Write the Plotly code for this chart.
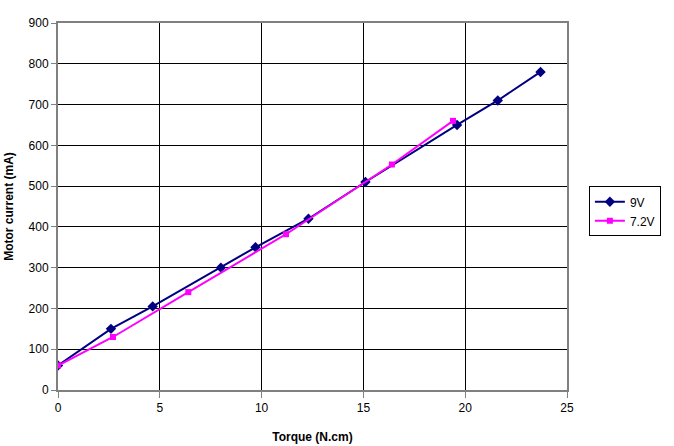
import plotly.graph_objects as go

torque_9v = [0, 2.6, 4.65, 8.0, 9.7, 12.3, 15.1, 19.6, 21.6, 23.7]
current_9v = [60, 150, 205, 300, 350, 420, 510, 650, 710, 780]
torque_72v = [0, 2.7, 6.4, 11.2, 16.4, 19.4]
current_72v = [60, 130, 240, 382, 553, 660]

x_ticks = [0, 5, 10, 15, 20, 25]
y_ticks = [0, 100, 200, 300, 400, 500, 600, 700, 800, 900]

fig = go.Figure()
fig.add_trace(go.Scatter(x=torque_9v, y=current_9v, name="9V", mode="lines+markers",
                         line=dict(color="#000080", width=2),
                         marker=dict(symbol="diamond", size=8, color="#000080")))
fig.add_trace(go.Scatter(x=torque_72v, y=current_72v, name="7.2V", mode="lines+markers",
                         line=dict(color="#FF00FF", width=2),
                         marker=dict(symbol="square", size=6, color="#FF00FF")))

font = dict(family="Liberation Sans, Arial, sans-serif", size=12, color="black")
fig.update_layout(
    width=674, height=446,
    margin=dict(l=58, r=107, t=23, b=56),
    paper_bgcolor="white", plot_bgcolor="white",
    font=font,
    showlegend=True,
    legend=dict(x=1.043, y=0.555, xanchor="left", yanchor="top",
                bordercolor="black", borderwidth=1, bgcolor="white",
                font=dict(family="Liberation Sans, Arial, sans-serif", size=12),
                tracegroupgap=0, itemwidth=30),
    xaxis=dict(range=[0, 25], tickvals=x_ticks, showgrid=True, gridcolor="black", gridwidth=1,
               showline=True, linecolor="#808080", linewidth=2, mirror=True, automargin=False,
               ticks="outside", ticklen=6, tickcolor="#808080", zeroline=False,
               title=dict(text="<b>Torque (N.cm)</b>", font=dict(size=12), standoff=18)),
    yaxis=dict(range=[0, 900], tickvals=y_ticks, showgrid=True, gridcolor="black", gridwidth=1,
               showline=True, linecolor="#808080", linewidth=2, mirror=True, automargin=False,
               ticks="outside", ticklen=5, tickcolor="#808080", zeroline=False,
               title=dict(text="<b>Motor current (mA)</b>", font=dict(size=12), standoff=12)),
)
fig.write_html("out.html")
